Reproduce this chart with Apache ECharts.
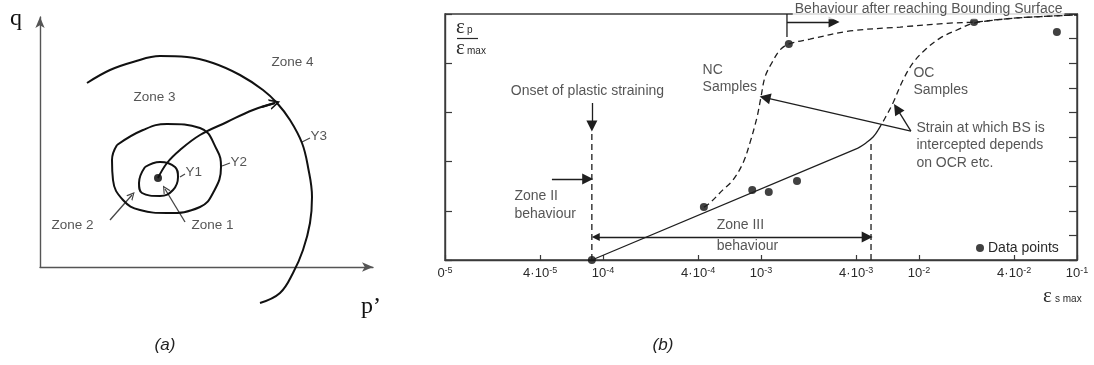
<!DOCTYPE html>
<html>
<head>
<meta charset="utf-8">
<script src="https://cdn.jsdelivr.net/npm/echarts@6/dist/echarts.min.js"></script>
<style>
  html, body { margin: 0; padding: 0; background: #fff; }
  #chart { width: 1094px; height: 365px; }
</style>
</head>
<body>
<div id="chart"></div>
<script>
// ---------- (a) yield surfaces in q - p' space (arbitrary stress units) ----------
const y1Surface = [[105,100],[120,105],[135,100],[138,90],[133,77],[120,71],[102,74],[99,84],[105,100]];
const y2Surface = [[77,122],[103,137],[127,143],[160,139],[177,117],[181,100],[173,74],[160,60],[127,54],[100,57],[83,67],[73,87],[72,107],[77,122]];
const y3Surface = [[47,184],[70,197],[93,205],[120,211],[147,210],[173,204],[200,192],[223,177],[237,164],[250,147],[262,124],[268,100],[272,70],[270,44],[263,17],[253,-6],[240,-26],[220,-36]];
const stressPath = [[118,89],[127,104],[140,117],[160,132],[187,145],[213,157],[235,164]];
const stressOrigin = [[118,89]];
const stressPathHead = [[222,160],[235,164]];
const zonePointers = [[[70,47],[92,72]], [[145,45],[125,78]]];
const surfaceLeaders = [[[140,90],[145,93]], [[182,101],[190,104]], [[262,125],[270,129]]];
const zoneLabels = [
  { text: 'Zone 4', at: [253,204], align: 'center' },
  { text: 'Zone 3', at: [115,169], align: 'center' },
  { text: 'Zone 2', at: [33,41],   align: 'center' },
  { text: 'Zone 1', at: [173,41],  align: 'center' },
  { text: 'Y1',     at: [146,94],  align: 'left' },
  { text: 'Y2',     at: [191,104], align: 'left' },
  { text: 'Y3',     at: [271,130], align: 'left' }
];

// ---------- (b) normalised plastic strain vs maximum shear strain ----------
const xTickValues = [1e-5, 4e-5, 1e-4, 4e-4, 1e-3, 4e-3, 1e-2, 4e-2, 1e-1];
const xTickText = [['0','-5'],['4·10','-5'],['10','-4'],['4·10','-4'],['10','-3'],['4·10','-3'],['10','-2'],['4·10','-2'],['10','-1']];

const dataPoints = [[8.5e-5,0],[4.35e-4,0.215],[8.8e-4,0.285],[1.12e-3,0.276],[1.69e-3,0.321],[1.50e-3,0.878],[2.23e-2,0.967],[7.46e-2,0.927]];
const ncCurve = [[4.35e-4,0.215],[4.75e-4,0.232],[5.74e-4,0.285],[6.65e-4,0.325],[7.69e-4,0.394],[8.51e-4,0.476],[9.44e-4,0.581],[1.0e-3,0.663],[1.06e-3,0.744],[1.17e-3,0.801],[1.32e-3,0.854],[1.50e-3,0.878],[2.04e-3,0.898],[3.66e-3,0.931],[7.59e-3,0.947],[1.57e-2,0.963],[2.23e-2,0.967],[4.17e-2,0.984],[0.1,0.996]];
const ocCurve = [[5.51e-3,0.528],[6.10e-3,0.577],[6.84e-3,0.638],[7.93e-3,0.732],[9.16e-3,0.801],[1.09e-2,0.854],[1.36e-2,0.902],[1.74e-2,0.935],[2.23e-2,0.963],[4.17e-2,0.984],[0.1,0.996]];
const zoneIIIFit = [[8.5e-5,0],[4.11e-3,0.455]];
const ocBend = [[4.11e-3,0.455],[4.62e-3,0.476],[5.12e-3,0.500],[5.51e-3,0.528]];
const onsetStrain = [[8.5e-5,0],[8.5e-5,0.528]];
const boundingStrain = [[4.97e-3,0],[4.97e-3,0.48]];
const bsStem = [[1.46e-3,1.0],[1.46e-3,0.907]];

const arrowsB = [
  { coords: [[8.5e-5,0.638],[8.5e-5,0.545]], ends: ['none','triangle'] },
  { coords: [[4.75e-5,0.329],[8.0e-5,0.329]], ends: ['none','triangle'] },
  { coords: [[9.0e-5,0.0935],[4.7e-3,0.0935]], ends: ['triangle','triangle'] },
  { coords: [[1.46e-3,0.967],[2.9e-3,0.967]], ends: ['none','triangle'] },
  { coords: [[8.89e-3,0.524],[1.06e-3,0.660]], ends: ['none','triangle'] },
  { coords: [[8.89e-3,0.524],[7.25e-3,0.615]], ends: ['none','triangle'] }
];
const notesB = [
  { text: 'Onset of plastic straining', at: [8.03e-5,0.683], align: 'center' },
  { text: 'Zone II\nbehaviour', at: [2.77e-5,0.220], align: 'left' },
  { text: 'Zone III', at: [5.28e-4,0.138], align: 'left' },
  { text: 'behaviour', at: [5.28e-4,0.053], align: 'left' },
  { text: 'NC\nSamples', at: [4.30e-4,0.736], align: 'left' },
  { text: 'OC\nSamples', at: [9.29e-3,0.722], align: 'left' },
  { text: 'Strain at which BS is\nintercepted depends\non OCR etc.', at: [9.70e-3,0.463], align: 'left' },
  { text: 'Behaviour after reaching Bounding Surface', at: [1.60e-3,1.016], align: 'left', boxed: true }
];

const FONT = "'Liberation Sans', Arial, sans-serif";
const SERIF = "'Liberation Serif', 'Times New Roman', serif";
const INK = '#1e1e1e';
const TEXT = '#2a2a2a';
const CHEVRON = 'path://M0,10 L5,0 L10,10 L8.4,10 L5,3.2 L1.6,10 Z';

function plainLine(name, data, xi, yi, opts) {
  return Object.assign({
    type: 'line', name: name, xAxisIndex: xi, yAxisIndex: yi, data: data,
    showSymbol: false, symbol: 'none', clip: false, silent: true,
    lineStyle: { color: INK, width: 1.3 }
  }, opts || {});
}

function textLayer(name, notes, xi, yi, size) {
  return {
    type: 'scatter', name: name, xAxisIndex: xi, yAxisIndex: yi, silent: true, clip: false,
    symbolSize: 1, itemStyle: { color: 'rgba(0,0,0,0)' },
    data: notes.map(n => ({
      value: n.at, name: n.text,
      label: Object.assign({ align: n.align },
        n.boxed ? { backgroundColor: '#fff', padding: [1, 2, 1, 2] } : {})
    })),
    label: {
      show: true, position: [0, 0], verticalAlign: 'middle',
      formatter: p => p.name, fontFamily: FONT, fontSize: size,
      lineHeight: size + 3.5, color: TEXT
    }
  };
}

function nearestTick(v) {
  let best = 0, bd = Infinity;
  xTickValues.forEach((t, i) => {
    const d = Math.abs(Math.log10(t) - Math.log10(v));
    if (d < bd) { bd = d; best = i; }
  });
  return best;
}

const chart = echarts.init(document.getElementById('chart'), null, { renderer: 'canvas' });

const option = {
  animation: false,
  backgroundColor: '#fff',
  grid: [
    { left: 40, top: 17, width: 333, height: 250 },
    { left: 445, top: 14, width: 632, height: 246, show: true, borderColor: '#3a3a3a', borderWidth: 1.4, backgroundColor: 'transparent' }
  ],
  xAxis: [
    {
      gridIndex: 0, type: 'value', min: 0, max: 333,
      axisLine: { show: true, onZero: false, symbol: ['none', 'arrow'], symbolSize: [7, 11], lineStyle: { color: '#555', width: 1.4 } },
      axisTick: { show: false }, axisLabel: { show: false }, splitLine: { show: false }
    },
    {
      gridIndex: 1, type: 'log', logBase: 10, min: 1e-5, max: 1e-1,
      axisLine: { show: true, onZero: false, lineStyle: { color: '#3a3a3a', width: 1.4 } },
      axisTick: { show: true, inside: true, length: 5, customValues: xTickValues, lineStyle: { color: '#3a3a3a', width: 1.2 } },
      minorTick: { show: false }, splitLine: { show: false }, minorSplitLine: { show: false },
      axisLabel: {
        show: true, margin: 6, customValues: xTickValues, hideOverlap: false,
        showMinLabel: true, showMaxLabel: true,
        formatter: v => { const t = xTickText[nearestTick(v)]; return '{m|' + t[0] + '}{s|' + t[1] + '}'; },
        rich: {
          m: { fontFamily: FONT, fontSize: 13, lineHeight: 15, color: TEXT },
          s: { fontFamily: FONT, fontSize: 9, lineHeight: 9, color: TEXT, verticalAlign: 'top' }
        }
      }
    }
  ],
  yAxis: [
    {
      gridIndex: 0, type: 'value', min: 0, max: 250,
      axisLine: { show: true, onZero: false, symbol: ['none', 'arrow'], symbolSize: [7, 11], lineStyle: { color: '#555', width: 1.4 } },
      axisTick: { show: false }, axisLabel: { show: false }, splitLine: { show: false }
    },
    {
      gridIndex: 1, type: 'value', min: 0, max: 1, interval: 0.2,
      axisLine: { show: true, onZero: false, lineStyle: { color: '#3a3a3a', width: 1.4 } },
      axisTick: { show: true, inside: true, length: 7, lineStyle: { color: '#3a3a3a', width: 1.2 } },
      axisLabel: { show: false }, splitLine: { show: false }
    },
    {
      gridIndex: 1, type: 'value', min: 0, max: 1, interval: 0.1, position: 'right',
      axisLine: { show: true, onZero: false, lineStyle: { color: '#3a3a3a', width: 1.4 } },
      axisTick: { show: true, inside: true, length: 8, lineStyle: { color: '#3a3a3a', width: 1.2 } },
      axisLabel: { show: false }, splitLine: { show: false }
    }
  ],
  legend: {
    data: ['Data points'], left: 971, top: 236, icon: 'circle',
    itemWidth: 8, itemHeight: 8, itemGap: 4, selectedMode: false,
    textStyle: { fontFamily: FONT, fontSize: 14, color: TEXT, padding: [0, 0, 0, -1] }
  },
  graphic: [
    { type: 'text', style: { text: 'q', x: 16, y: 19, align: 'center', verticalAlign: 'middle', font: '24px ' + SERIF, fill: '#111' } },
    { type: 'text', style: { text: 'p’', x: 371, y: 307, align: 'center', verticalAlign: 'middle', font: '24px ' + SERIF, fill: '#111' } },
    { type: 'text', style: { text: 'ε', x: 456, y: 27, align: 'left', verticalAlign: 'middle', font: '21px ' + SERIF, fill: TEXT } },
    { type: 'text', style: { text: 'p', x: 467, y: 30, align: 'left', verticalAlign: 'middle', font: '10px ' + FONT, fill: TEXT } },
    { type: 'line', shape: { x1: 457, y1: 38.5, x2: 478, y2: 38.5 }, style: { stroke: TEXT, lineWidth: 1.2 } },
    { type: 'text', style: { text: 'ε', x: 456, y: 48, align: 'left', verticalAlign: 'middle', font: '21px ' + SERIF, fill: TEXT } },
    { type: 'text', style: { text: 'max', x: 467, y: 51, align: 'left', verticalAlign: 'middle', font: '10px ' + FONT, fill: TEXT } },
    { type: 'text', style: { text: 'ε', x: 1043, y: 296, align: 'left', verticalAlign: 'middle', font: '21px ' + SERIF, fill: TEXT } },
    { type: 'text', style: { text: 's max', x: 1055, y: 299, align: 'left', verticalAlign: 'middle', font: '10px ' + FONT, fill: TEXT } },
    { type: 'text', style: { text: '(a)', x: 165, y: 345, align: 'center', verticalAlign: 'middle', font: 'italic 17px ' + FONT, fill: '#222' } },
    { type: 'text', style: { text: '(b)', x: 663, y: 345, align: 'center', verticalAlign: 'middle', font: 'italic 17px ' + FONT, fill: '#222' } }
  ],
  series: [
    // ----- (a) -----
    plainLine('Y1', y1Surface, 0, 0, { smooth: 0.45, lineStyle: { color: '#111', width: 2 } }),
    plainLine('Y2', y2Surface, 0, 0, { smooth: 0.45, lineStyle: { color: '#111', width: 2 } }),
    plainLine('Y3', y3Surface, 0, 0, { smooth: 0.4, lineStyle: { color: '#111', width: 2 } }),
    plainLine('Stress path', stressPath, 0, 0, { smooth: 0.4, lineStyle: { color: '#111', width: 2 } }),
    {
      type: 'lines', coordinateSystem: 'cartesian2d', xAxisIndex: 0, yAxisIndex: 0, silent: true,
      symbol: ['none', CHEVRON], symbolSize: [11, 11],
      lineStyle: { color: '#111', width: 2, opacity: 1 },
      data: [{ coords: stressPathHead }]
    },
    {
      type: 'lines', coordinateSystem: 'cartesian2d', xAxisIndex: 0, yAxisIndex: 0, silent: true,
      symbol: ['none', CHEVRON], symbolSize: [8, 8],
      lineStyle: { color: '#444', width: 1.3, opacity: 1 },
      data: zonePointers.map(c => ({ coords: c }))
    },
    {
      type: 'lines', coordinateSystem: 'cartesian2d', xAxisIndex: 0, yAxisIndex: 0, silent: true,
      symbol: ['none', 'none'],
      lineStyle: { color: '#444', width: 1.2, opacity: 1 },
      data: surfaceLeaders.map(c => ({ coords: c }))
    },
    {
      type: 'scatter', name: 'Origin', xAxisIndex: 0, yAxisIndex: 0, silent: true,
      symbolSize: 8, itemStyle: { color: '#000' }, data: stressOrigin
    },
    textLayer('Zone labels', zoneLabels, 0, 0, 13.5),

    // ----- (b) -----
    plainLine('Zone III fit', zoneIIIFit, 1, 1),
    plainLine('OC bend', ocBend, 1, 1, { smooth: 0.4 }),
    plainLine('NC samples', ncCurve, 1, 1, { smooth: 0.35, lineStyle: { color: INK, width: 1.3, type: [6, 4] } }),
    plainLine('OC samples', ocCurve, 1, 1, { smooth: 0.35, lineStyle: { color: INK, width: 1.3, type: [6, 4] } }),
    plainLine('Onset strain', onsetStrain, 1, 1, { lineStyle: { color: INK, width: 1.3, type: [6, 4] } }),
    plainLine('Bounding strain', boundingStrain, 1, 1, { lineStyle: { color: INK, width: 1.3, type: [6, 4] } }),
    plainLine('BS stem', bsStem, 1, 1),
    {
      type: 'lines', coordinateSystem: 'cartesian2d', xAxisIndex: 1, yAxisIndex: 1, silent: true,
      symbolSize: [8, 11],
      lineStyle: { color: INK, width: 1.3, opacity: 1 },
      data: arrowsB.map(a => ({ coords: a.coords, symbol: a.ends }))
    },
    {
      type: 'scatter', name: 'Data points', xAxisIndex: 1, yAxisIndex: 1, silent: true, clip: false,
      symbol: 'circle', symbolSize: 8, itemStyle: { color: '#111' }, data: dataPoints
    },
    textLayer('Notes', notesB, 1, 1, 14)
  ]
};

chart.setOption(option);
</script>
</body>
</html>
